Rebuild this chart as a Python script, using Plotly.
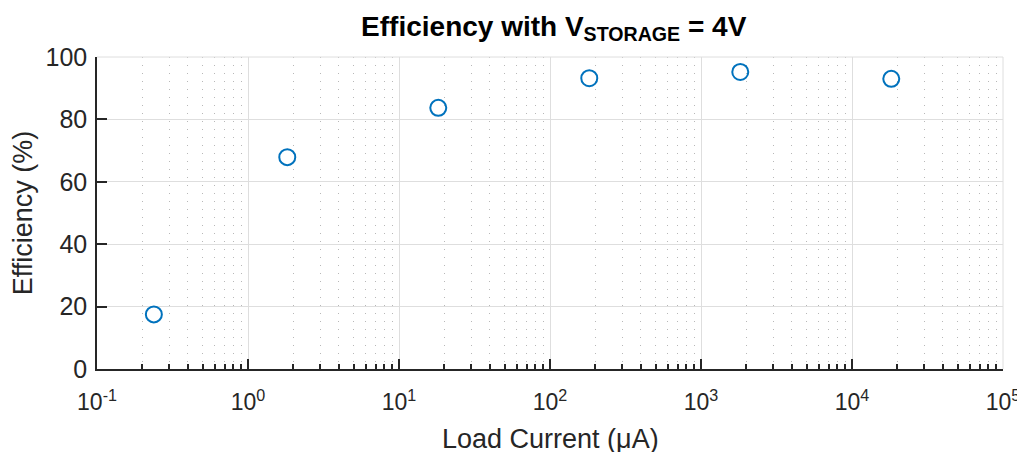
import plotly.graph_objects as go

# load current (uA) and efficiency (%)
load_current = [0.238, 1.82, 18.2, 182, 1820, 18200]
efficiency = [17.5, 67.9, 83.7, 93.2, 95.2, 93.0]

xtick_vals = [0.1, 1, 10, 100, 1000, 10000, 100000]
xtick_text = ["10<sup>-1</sup>", "10<sup>0</sup>", "10<sup>1</sup>", "10<sup>2</sup>",
              "10<sup>3</sup>", "10<sup>4</sup>", "10<sup>5</sup>"]
ytick_vals = [0, 20, 40, 60, 80, 100]

txt = "#262626"
font = "Liberation Sans, Arial, sans-serif"

trace = go.Scatter(x=load_current, y=efficiency, mode="markers",
                   marker=dict(symbol="circle-open", size=16, color="#0072BD",
                               line=dict(width=2, color="#0072BD")),
                   showlegend=False)

layout = go.Layout(
    width=1017, height=444,
    margin=dict(l=89, r=22, t=49, b=83),
    plot_bgcolor="white", paper_bgcolor="white",
    font=dict(family=font, size=25, color=txt),
    title=dict(text="<b>Efficiency with V<sub>STORAGE</sub> = 4V</b>",
               x=0.5366, xanchor="center", y=0.982, yanchor="top",
               font=dict(size=28, color="black")),
    xaxis=dict(type="log", range=[-1, 5], tickvals=xtick_vals, ticktext=xtick_text,
               tickfont=dict(size=23),
               showline=True, linecolor=txt, linewidth=1.5,
               ticks="inside", ticklen=10, tickcolor=txt, tickwidth=1.5,
               ticklabelstandoff=12,
               showgrid=True, gridcolor="#dedede", gridwidth=1,
               minor=dict(dtick="D1", ticks="inside", ticklen=5, tickcolor=txt,
                          showgrid=True, gridcolor="#b8b8b8", griddash="1px,7px"),
               zeroline=False, automargin=False),
    yaxis=dict(range=[0, 100], tickvals=ytick_vals,
               showline=True, linecolor=txt, linewidth=1.5,
               ticks="inside", ticklen=10, tickcolor=txt, tickwidth=1.5,
               ticklabelstandoff=3,
               showgrid=True, gridcolor="#dedede", gridwidth=1,
               title=dict(text="Efficiency (%)", standoff=6, font=dict(size=27)),
               zeroline=False, automargin=False),
    annotations=[
        dict(text="Load Current (μA)", xref="paper", yref="paper", x=0.5, y=0,
             xanchor="center", yanchor="middle", yshift=-70, showarrow=False,
             font=dict(size=27, color=txt)),
    ],
    shapes=[
        dict(type="line", xref="paper", yref="paper", x0=0, x1=1, y0=1, y1=1,
             line=dict(color="#dedede", width=1)),
        dict(type="line", xref="paper", yref="paper", x0=1, x1=1, y0=0, y1=1,
             line=dict(color="#dedede", width=1)),
    ],
)

fig = go.Figure(data=[trace], layout=layout)
fig.write_html("out.html")
